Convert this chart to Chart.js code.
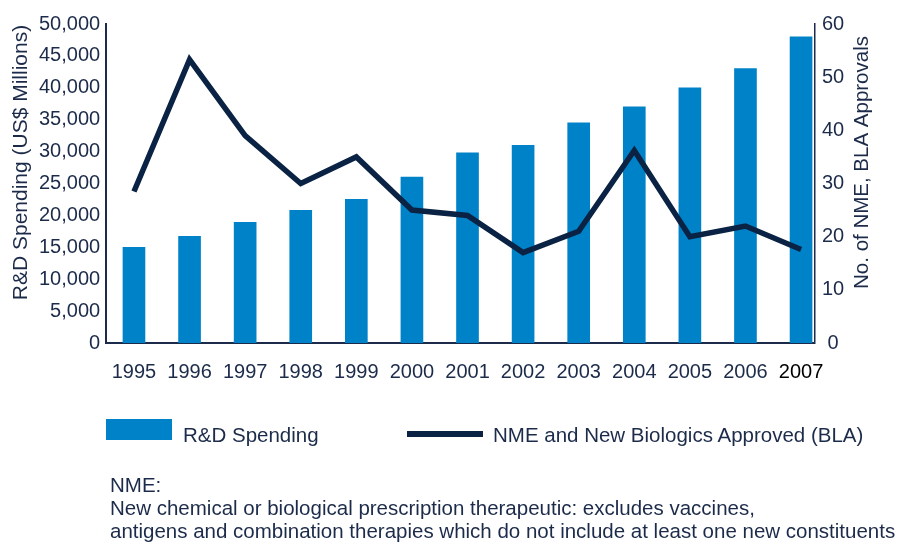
<!DOCTYPE html>
<html>
<head>
<meta charset="utf-8">
<script src="https://cdn.jsdelivr.net/npm/chart.js@4.4.1/dist/chart.umd.min.js"></script>
<style>
  html, body { margin: 0; padding: 0; background: #ffffff; }
  #wrap { position: relative; width: 898px; height: 545px; overflow: hidden;
          font-family: "Liberation Sans", Arial, sans-serif; color: #1c2b4a; }
  #c { position: absolute; left: 0; top: 0; }
  .txt { position: absolute; font-size: 20.5px; line-height: 23px; white-space: nowrap; }
  .sw { position: absolute; }
</style>
</head>
<body>
<div id="wrap">
  <canvas id="c" width="898" height="545"></canvas>
  <div id="legend"></div>
  <div id="note" class="txt" style="left:110px; top:473px;"></div>
</div>
<script>
// ---- data ----
const years = ['1995','1996','1997','1998','1999','2000','2001','2002','2003','2004','2005','2006','2007'];
const rdSpending = [15000, 16700, 18900, 20800, 22500, 26000, 29800, 31000, 34500, 37000, 40000, 43000, 48000];
const nmeApprovals = [28.5, 53.3, 39, 30, 35, 25, 24, 17, 21, 36.2, 20, 22, 17.6];
const leftTicks = [0, 5000, 10000, 15000, 20000, 25000, 30000, 35000, 40000, 45000, 50000];
const rightTicks = [0, 10, 20, 30, 40, 50, 60];
const seriesNames = ['R&D Spending', 'NME and New Biologics Approved (BLA)'];
const leftTitle = 'R&D Spending (US$ Millions)';
const rightTitle = 'No. of NME, BLA Approvals';
const noteLines = [
  'NME:',
  'New chemical or biological prescription therapeutic: excludes vaccines,',
  'antigens and combination therapies which do not include at least one new constituents'
];

const BAR = '#0082c8';
const LINE = '#0a2344';
const TEXT = '#1c2b4a';
const FONT = '"Liberation Sans", Arial, sans-serif';

const axisTitles = {
  id: 'axisTitles',
  afterDraw(chart) {
    const {ctx, chartArea} = chart;
    const cy = (chartArea.top + chartArea.bottom) / 2 - 21;
    const draw = (text, x, size) => {
      ctx.save();
      ctx.translate(x, cy);
      ctx.rotate(-Math.PI / 2);
      ctx.font = size + 'px ' + FONT;
      ctx.fillStyle = TEXT;
      ctx.textAlign = 'center';
      ctx.textBaseline = 'middle';
      ctx.fillText(text, 0, 0);
      ctx.restore();
    };
    draw(leftTitle, chartArea.left - 85, 21);
    draw(rightTitle, chartArea.right + 47, 20.5);
  }
};

const chart = new Chart(document.getElementById('c'), {
  data: {
    datasets: [
      {
        type: 'line',
        label: seriesNames[1],
        data: years.map((y, i) => ({x: i, y: nmeApprovals[i]})),
        yAxisID: 'y1',
        borderColor: LINE,
        borderWidth: 5.5,
        borderJoinStyle: 'miter',
        borderCapStyle: 'butt',
        pointRadius: 0,
        tension: 0,
        order: 0
      },
      {
        type: 'bar',
        label: seriesNames[0],
        data: years.map((y, i) => ({x: i, y: rdSpending[i]})),
        yAxisID: 'y',
        backgroundColor: BAR,
        barThickness: 22,
        order: 1
      }
    ]
  },
  options: {
    responsive: false,
    animation: false,
    devicePixelRatio: 1,
    layout: { padding: { left: 33, right: 46.8, top: 24, bottom: 144 } },
    plugins: { legend: { display: false }, tooltip: { enabled: false } },
    scales: {
      x: {
        type: 'linear',
        offset: false,
        min: -0.5,
        max: 12.25,
        afterBuildTicks: s => { s.ticks = years.map((y, i) => ({value: i})); },
        grid: { display: false, drawTicks: false },
        border: { display: true, color: TEXT, width: 2 },
        ticks: {
          autoSkip: false, maxRotation: 0, padding: 17,
          font: { family: FONT, size: 20 },
          color: c => (c.index === years.length - 1 ? '#000000' : TEXT),
          callback: v => years[v]
        }
      },
      y: {
        position: 'left',
        min: 0, max: 50000,
        afterBuildTicks: s => { s.ticks = leftTicks.map(v => ({value: v})); },
        grid: { display: false, drawTicks: false },
        border: { display: true, color: TEXT, width: 2 },
        ticks: {
          padding: 6,
          font: { family: FONT, size: 20 },
          color: TEXT,
          callback: v => v.toLocaleString('en-US')
        }
      },
      y1: {
        position: 'right',
        min: 0, max: 60,
        afterBuildTicks: s => { s.ticks = rightTicks.map(v => ({value: v})); },
        grid: { display: false, drawTicks: false },
        border: { display: true, color: TEXT, width: 1.5 },
        ticks: {
          padding: 7,
          crossAlign: 'center',
          font: { family: FONT, size: 20 },
          color: TEXT
        }
      }
    }
  },
  plugins: [axisTitles]
});

// ---- legend (HTML, built from the chart's datasets) ----
const legend = document.getElementById('legend');
const barDs = chart.data.datasets[1];
const lineDs = chart.data.datasets[0];
legend.innerHTML =
  '<div class="sw" style="left:106px;top:419px;width:66px;height:21px;background:' + barDs.backgroundColor + '"></div>' +
  '<div class="txt" style="left:183px;top:423px;"></div>' +
  '<div class="sw" style="left:407px;top:431px;width:76px;height:6px;background:' + lineDs.borderColor + '"></div>' +
  '<div class="txt" style="left:493px;top:423px;"></div>';
const lt = legend.querySelectorAll('.txt');
lt[0].textContent = barDs.label;
lt[1].textContent = lineDs.label;

const note = document.getElementById('note');
noteLines.forEach(l => { const d = document.createElement('div'); d.textContent = l; note.appendChild(d); });
</script>
</body>
</html>
